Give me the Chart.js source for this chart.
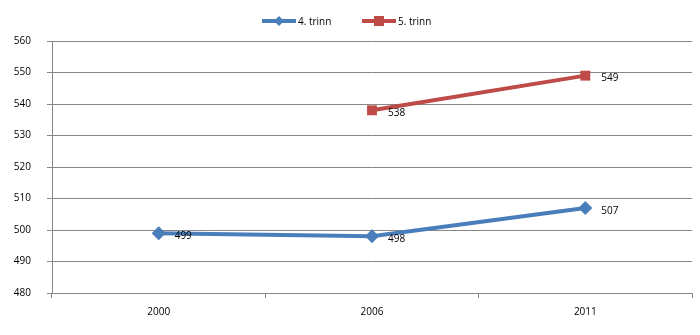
<!DOCTYPE html>
<html>
<head>
<meta charset="utf-8">
<script src="https://cdn.jsdelivr.net/npm/chart.js@4/dist/chart.umd.min.js"></script>
<style>
  html, body { margin: 0; padding: 0; background: #fff; }
  #wrap { width: 700px; height: 335px; }
</style>
</head>
<body>
<div id="wrap"><canvas id="chart" width="700" height="335"></canvas></div>
<script>
// årstall og skår per trinn
const years = ["2000", "2006", "2011"];
const trinn4 = [499, 498, 507];
const trinn5 = [null, 538, 549];
const yTicks = [480, 490, 500, 510, 520, 530, 540, 550, 560];

const BLUE = "#4a7ebb";
const RED = "#be4b48";
const FONT = "'Open Sans', 'Liberation Sans', sans-serif";

// verdi ved siden av hvert punkt
const valueLabels = {
  id: "valueLabels",
  afterDatasetsDraw(chart) {
    const ctx = chart.ctx;
    ctx.save();
    ctx.font = "10px " + FONT;
    ctx.fillStyle = "#000";
    ctx.textAlign = "left";
    ctx.textBaseline = "middle";
    chart.data.datasets.forEach((ds, i) => {
      chart.getDatasetMeta(i).data.forEach((pt, j) => {
        if (ds.data[j] == null) return;
        ctx.fillText(String(ds.data[j]), pt.x + 16, pt.y + 3);
      });
    });
    ctx.restore();
  }
};

// forklaring med linje + markør øverst
const lineLegend = {
  id: "lineLegend",
  afterDraw(chart) {
    const ctx = chart.ctx;
    const items = [
      { text: "4. trinn", color: BLUE, shape: "diamond", x: 262 },
      { text: "5. trinn", color: RED, shape: "square", x: 362 }
    ];
    const y = 21;
    ctx.save();
    ctx.font = "10px " + FONT;
    ctx.textBaseline = "middle";
    items.forEach(it => {
      ctx.strokeStyle = it.color;
      ctx.lineWidth = 4;
      ctx.beginPath();
      ctx.moveTo(it.x, y);
      ctx.lineTo(it.x + 34, y);
      ctx.stroke();
      ctx.fillStyle = it.color;
      const cx = it.x + 17;
      if (it.shape === "diamond") {
        ctx.beginPath();
        ctx.moveTo(cx, y - 5);
        ctx.lineTo(cx + 5, y);
        ctx.lineTo(cx, y + 5);
        ctx.lineTo(cx - 5, y);
        ctx.closePath();
        ctx.fill();
      } else {
        ctx.fillRect(cx - 5, y - 5, 10, 10);
      }
      ctx.fillStyle = "#000";
      ctx.fillText(it.text, it.x + 36, y + 1);
    });
    ctx.restore();
  }
};

new Chart(document.getElementById("chart"), {
  type: "line",
  data: {
    labels: years,
    datasets: [
      {
        label: "4. trinn",
        data: trinn4,
        borderColor: BLUE,
        backgroundColor: BLUE,
        borderWidth: 4,
        pointStyle: "rectRot",
        pointRadius: 7,
        pointHoverRadius: 7,
        pointBorderWidth: 0,
        tension: 0
      },
      {
        label: "5. trinn",
        data: trinn5,
        borderColor: RED,
        backgroundColor: RED,
        borderWidth: 4,
        pointStyle: "rect",
        pointRadius: 7,
        pointHoverRadius: 7,
        pointBorderWidth: 0,
        tension: 0
      }
    ]
  },
  options: {
    responsive: false,
    animation: false,
    devicePixelRatio: 1,
    layout: { padding: { left: 0, right: 8, top: 41, bottom: 0 } },
    plugins: {
      legend: { display: false },
      tooltip: { enabled: false }
    },
    scales: {
      x: {
        type: "category",
        offset: true,
        afterFit(scale) { scale.height = 42; },
        grid: {
          offset: true,
          drawOnChartArea: false,
          drawTicks: true,
          tickLength: 5,
          color: "#868686",
          lineWidth: 1
        },
        border: { color: "#868686", width: 1 },
        ticks: {
          color: "#000",
          font: { family: FONT, size: 10 },
          padding: 8,
          maxRotation: 0
        }
      },
      y: {
        min: 480,
        max: 560,
        afterFit(scale) { scale.width = 52; },
        afterBuildTicks(scale) { scale.ticks = yTicks.map(v => ({ value: v })); },
        grid: {
          color: "#868686",
          lineWidth: 1,
          drawTicks: true,
          tickLength: 5
        },
        border: { color: "#868686", width: 1 },
        ticks: {
          color: "#000",
          font: { family: FONT, size: 10 },
          padding: 16
        }
      }
    }
  },
  plugins: [valueLabels, lineLegend]
});
</script>
</body>
</html>
